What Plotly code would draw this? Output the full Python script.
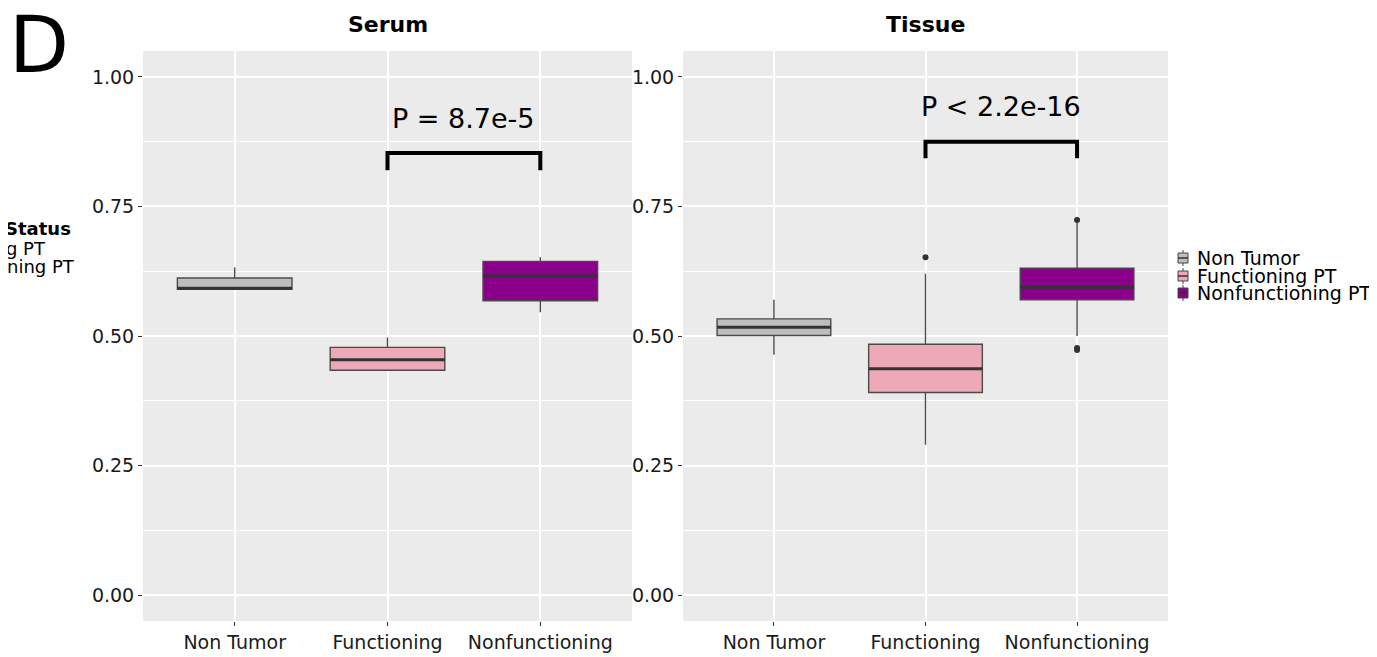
import plotly.graph_objects as go

# ---------------- data ----------------
categories = ["Non Tumor", "Functioning", "Nonfunctioning"]
legend_labels = ["Non Tumor", "Functioning PT", "Nonfunctioning PT"]
panel_titles = ["Serum", "Tissue"]

serum_lower = [0.589, 0.433, 0.546]
serum_q1 = [0.590, 0.434, 0.568]
serum_median = [0.592, 0.454, 0.616]
serum_q3 = [0.612, 0.478, 0.644]
serum_upper = [0.632, 0.497, 0.652]
serum_outliers = [[], [], []]

tissue_lower = [0.464, 0.290, 0.500]
tissue_q1 = [0.501, 0.391, 0.570]
tissue_median = [0.517, 0.437, 0.594]
tissue_q3 = [0.533, 0.484, 0.631]
tissue_upper = [0.570, 0.620, 0.718]
tissue_outliers = [[], [0.652], [0.724, 0.477, 0.473]]

p_labels = ["P = 8.7e-5", "P < 2.2e-16"]
bracket_y = [0.853, 0.875]
bracket_tip = [0.820, 0.843]
p_label_y = [0.919, 0.942]

y_ticks = [0.0, 0.25, 0.5, 0.75, 1.0]
y_ticktext = ["0.00", "0.25", "0.50", "0.75", "1.00"]

side_legend_title = "Status"
side_legend_items = ["Functioning PT", "Nonfunctioning PT"]

# ---------------- style ----------------
fill_colors = ["#BEBEBE", "#EEA9B8", "#8B008B"]
OFF = 8                      # page body margin of the html wrapper
W, H = 1377 - OFF, 657 - OFF
FONT = "DejaVu Sans, sans-serif"
BOX_W = 0.75


def px_x(p):
    return (p - OFF) / W


def px_y(p):
    return (H - (p - OFF)) / H


fig = go.Figure()

panels = [
    (serum_lower, serum_q1, serum_median, serum_q3, serum_upper, serum_outliers, "x", "y"),
    (tissue_lower, tissue_q1, tissue_median, tissue_q3, tissue_upper, tissue_outliers, "x2", "y2"),
]

for lo, q1, med, q3, up, outs, xa, ya in panels:
    for i, cat in enumerate(categories):
        fig.add_trace(go.Box(
            x=[i], q1=[q1[i]], median=[med[i]], q3=[q3[i]],
            lowerfence=[lo[i]], upperfence=[up[i]],
            width=BOX_W, whiskerwidth=0, boxpoints=False,
            fillcolor=fill_colors[i],
            line=dict(color="#4a4a4a", width=1.4),
            name=legend_labels[i], showlegend=False,
            hoverinfo="skip", xaxis=xa, yaxis=ya,
        ))
        # thick median line (ggplot fatten)
        fig.add_trace(go.Scatter(
            x=[i - BOX_W / 2, i + BOX_W / 2], y=[med[i], med[i]],
            mode="lines", line=dict(color="#333333", width=3),
            showlegend=False, hoverinfo="skip", xaxis=xa, yaxis=ya,
        ))
        if outs[i]:
            fig.add_trace(go.Scatter(
                x=[i] * len(outs[i]), y=outs[i], mode="markers",
                marker=dict(color="#333333", size=6),
                showlegend=False, hoverinfo="skip", xaxis=xa, yaxis=ya,
            ))

# brackets and p-values
for k, (xa, ya) in enumerate([("x", "y"), ("x2", "y2")]):
    fig.add_trace(go.Scatter(
        x=[1, 1, 2, 2], y=[bracket_tip[k], bracket_y[k], bracket_y[k], bracket_tip[k]],
        mode="lines", line=dict(color="black", width=4),
        showlegend=False, hoverinfo="skip", xaxis=xa, yaxis=ya,
    ))
    fig.add_annotation(
        x=1.5, y=p_label_y[k], xref=xa, yref=ya, text=p_labels[k],
        showarrow=False, font=dict(family="DejaVu Sans", size=27, color="black"),
        xanchor="center", yanchor="middle",
    )

dom_left = [px_x(143), px_x(632)]
dom_right = [px_x(683), px_x(1168)]
ydom = [px_y(621), px_y(51)]

xax = dict(
    range=[-0.6, 2.6], tickvals=[0, 1, 2], ticktext=categories,
    showgrid=True, gridcolor="white", gridwidth=1.5, zeroline=False,
    ticks="outside", ticklen=4, tickcolor="#333333", tickwidth=1,
    tickfont=dict(family=FONT, size=19, color="#1a1a1a"),
    showline=False, fixedrange=True, automargin=False,
)
yax = dict(
    range=[-0.05, 1.05], tickvals=y_ticks, ticktext=y_ticktext,
    showgrid=True, gridcolor="white", gridwidth=1.5, zeroline=False,
    ticks="outside", ticklen=4, tickcolor="#333333", tickwidth=1,
    tickfont=dict(family=FONT, size=19, color="#1a1a1a"),
    minor=dict(tickvals=[0.125, 0.375, 0.625, 0.875], showgrid=True,
               gridcolor="white", gridwidth=0.7, ticks=""),
    showline=False, fixedrange=True, domain=ydom, automargin=False,
)

fig.update_layout(
    width=W, height=H,
    margin=dict(l=0, r=0, t=0, b=0),
    paper_bgcolor="white", plot_bgcolor="#EBEBEB",
    boxmode="overlay", showlegend=False,
    xaxis=dict(xax, domain=dom_left, anchor="y"),
    yaxis=dict(yax, anchor="x"),
    xaxis2=dict(xax, domain=dom_right, anchor="y2"),
    yaxis2=dict(yax, anchor="x2"),
)

# panel titles
for k, xa in enumerate(["x", "x2"]):
    fig.add_annotation(
        x=0.5, xref=f"{xa} domain", y=px_y(25), yref="paper",
        text=f"<b>{panel_titles[k]}</b>", showarrow=False,
        font=dict(family=FONT, size=22, color="black"),
        xanchor="center", yanchor="middle",
    )

# panel letter
fig.add_annotation(
    x=px_x(39), y=px_y(45), xref="paper", yref="paper", text="D",
    showarrow=False, font=dict(family=FONT, size=78, color="black"),
    xanchor="center", yanchor="middle",
)

# clipped legend from neighbouring panel (left edge)
fig.add_annotation(
    x=px_x(73), y=px_y(228), xref="paper", yref="paper",
    text=f"<b>{side_legend_title}</b>", showarrow=False,
    font=dict(family=FONT, size=18, color="black"),
    xanchor="right", yanchor="middle",
)
for txt, xr, yc in zip(side_legend_items, [48, 77], [249, 266]):
    fig.add_annotation(
        x=px_x(xr), y=px_y(yc), xref="paper", yref="paper",
        text=txt, showarrow=False,
        font=dict(family=FONT, size=18, color="black"),
        xanchor="right", yanchor="middle",
    )

# right legend (custom, compact like ggplot)
leg_y = [258, 276, 293]
for i, lab in enumerate(legend_labels):
    yc = leg_y[i]
    fig.add_shape(type="line", xref="paper", yref="paper",
                  x0=px_x(1183), x1=px_x(1183), y0=px_y(yc - 8), y1=px_y(yc + 8),
                  line=dict(color="#464646", width=1))
    fig.add_shape(type="rect", xref="paper", yref="paper",
                  x0=px_x(1178), x1=px_x(1188), y0=px_y(yc - 5), y1=px_y(yc + 5),
                  fillcolor=fill_colors[i], line=dict(color="#464646", width=1))
    fig.add_shape(type="line", xref="paper", yref="paper",
                  x0=px_x(1178), x1=px_x(1188), y0=px_y(yc), y1=px_y(yc),
                  line=dict(color="#333333", width=1.5))
    fig.add_annotation(
        x=px_x(1195), y=px_y(yc), xref="paper", yref="paper",
        text=lab, showarrow=False,
        font=dict(family=FONT, size=19, color="black"),
        xanchor="left", yanchor="middle",
    )

fig.write_html("out.html")
